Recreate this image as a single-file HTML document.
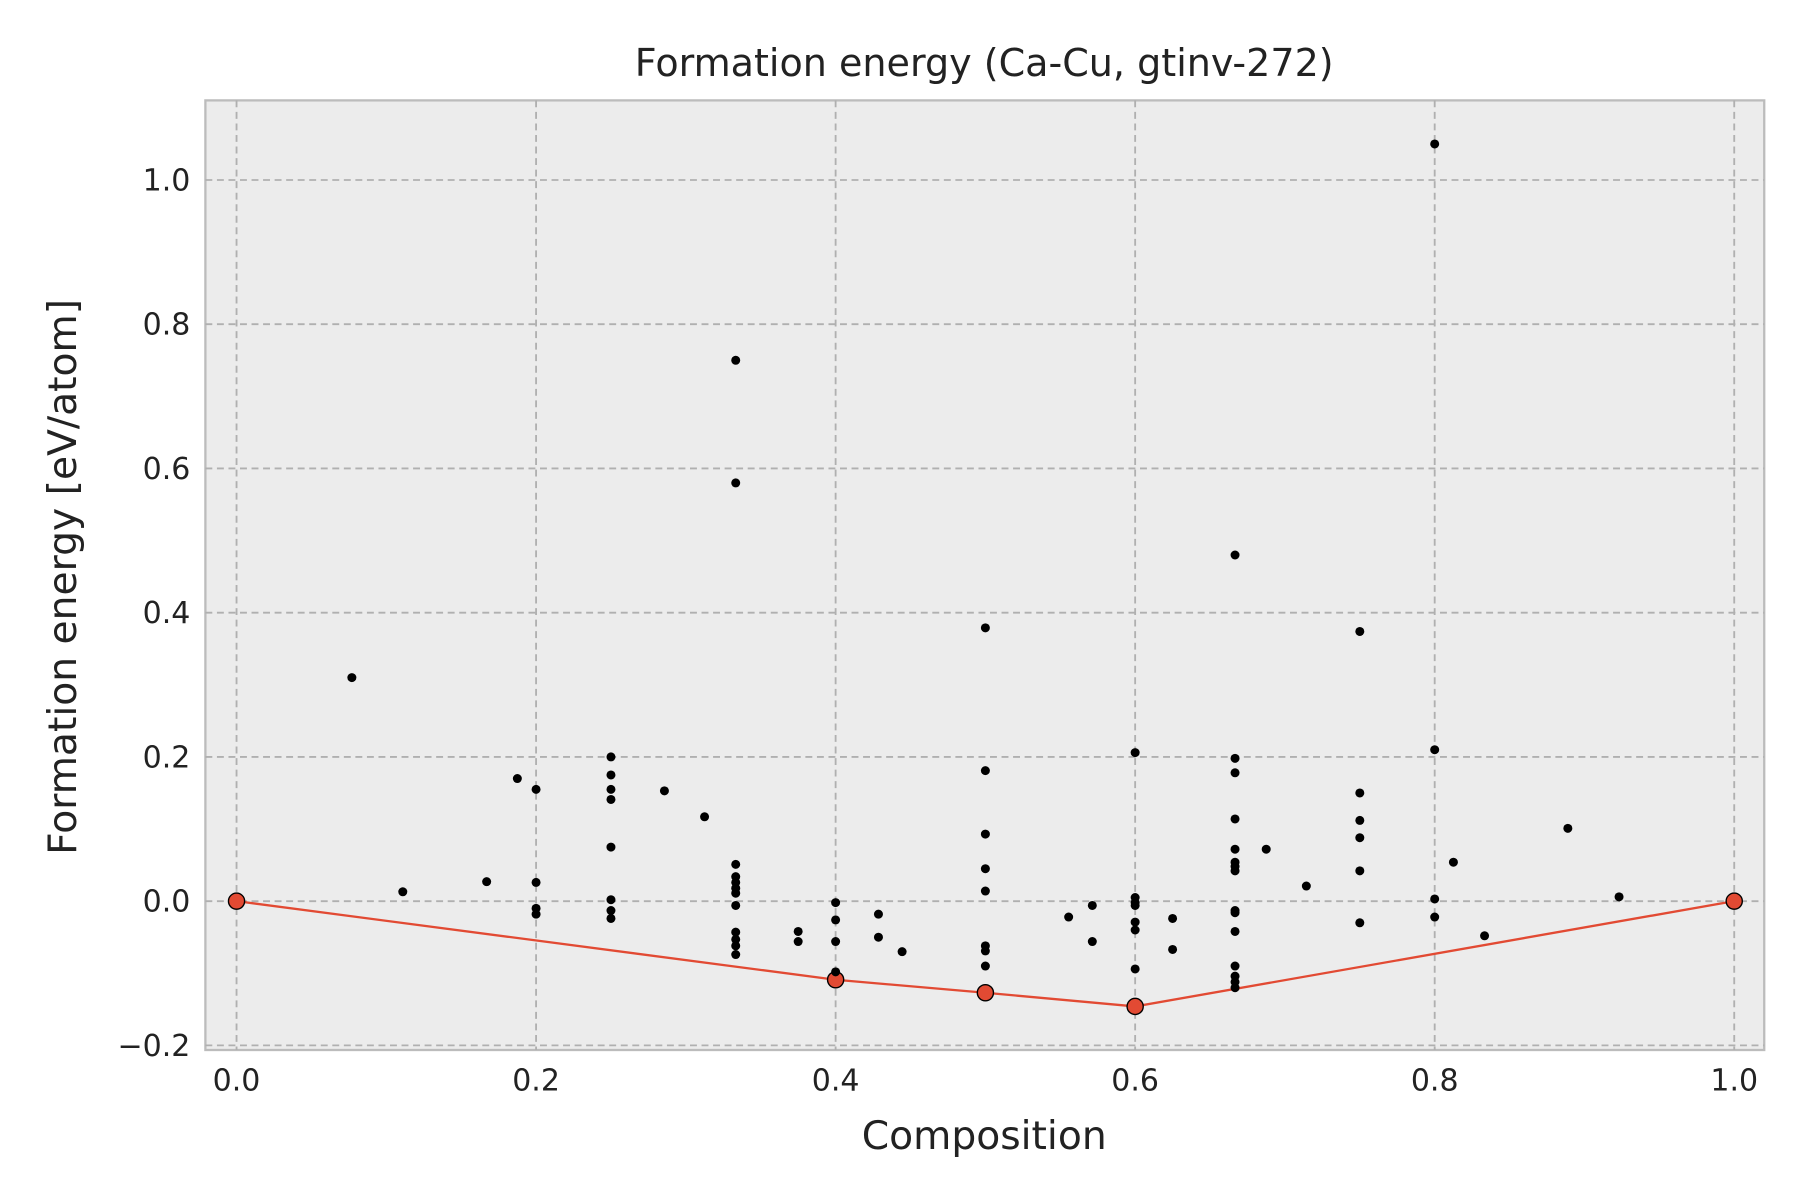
<!DOCTYPE html>
<html><head><meta charset="utf-8"><style>
html,body{margin:0;padding:0;background:#fff;}
svg{display:block;font-family:"DejaVu Sans","Liberation Sans",sans-serif;}
</style></head><body>
<svg id="chart" width="1800" height="1200" viewBox="0 0 1560 1040" xmlns="http://www.w3.org/2000/svg">
<rect x="0" y="0" width="1560" height="1040" fill="#fff"/>
<rect x="178" y="87" width="1351" height="823" fill="#ececec" stroke="#bcbcbc" stroke-width="2"/>
<g id="grid"></g>
<g id="hull"></g>
<g id="pts"></g>
<g id="ticks"></g>
<text x="853" y="66" text-anchor="middle" font-size="33" fill="#222">Formation energy (Ca-Cu, gtinv-272)</text>
<text x="853" y="996" text-anchor="middle" font-size="34" fill="#222">Composition</text>
<text transform="translate(66,500) rotate(-90)" text-anchor="middle" font-size="34" fill="#222">Formation energy [eV/atom]</text>
</svg>
<script>
const xTicks=[0,0.2,0.4,0.6,0.8,1.0];
const xTickLabels=["0.0","0.2","0.4","0.6","0.8","1.0"];
const yTicks=[-0.2,0,0.2,0.4,0.6,0.8,1.0];
const yTickLabels=["\u22120.2","0.0","0.2","0.4","0.6","0.8","1.0"];
const ptX=[0.077,0.111,0.167,0.1875,0.2,0.2,0.2,0.2,0.25,0.25,0.25,0.25,0.25,0.25,0.25,0.25,0.2857,0.3125,
0.3333,0.3333,0.3333,0.3333,0.3333,0.3333,0.3333,0.3333,0.3333,0.3333,0.3333,0.3333,
0.375,0.375,0.4,0.4,0.4,0.4,0.4286,0.4286,0.4444,
0.5,0.5,0.5,0.5,0.5,0.5,0.5,0.5,0.5556,0.5714,0.5714,
0.6,0.6,0.6,0.6,0.6,0.6,0.6,0.625,0.625,
0.6667,0.6667,0.6667,0.6667,0.6667,0.6667,0.6667,0.6667,0.6667,0.6667,0.6667,0.6667,0.6667,0.6667,0.6667,
0.6875,0.7143,0.75,0.75,0.75,0.75,0.75,0.8,0.8,0.8,0.8,0.8125,0.8333,0.8889,0.9231,0.75];
const ptY=[0.31,0.013,0.027,0.17,0.155,0.026,-0.01,-0.018,0.2,0.175,0.155,0.141,0.075,0.002,-0.013,-0.024,0.153,0.117,
0.75,0.58,0.051,0.034,0.026,0.018,0.011,-0.006,-0.043,-0.053,-0.062,-0.074,
-0.042,-0.056,-0.002,-0.026,-0.056,-0.098,-0.018,-0.05,-0.07,
0.379,0.181,0.093,0.045,0.014,-0.062,-0.069,-0.09,-0.022,-0.006,-0.056,
0.206,0.005,-0.002,-0.006,-0.029,-0.04,-0.094,-0.024,-0.067,
0.48,0.198,0.178,0.114,0.072,0.054,0.048,0.042,-0.013,-0.016,-0.042,-0.09,-0.104,-0.112,-0.12,
0.072,0.021,0.374,0.15,0.112,0.088,0.042,1.05,0.21,0.003,-0.022,0.054,-0.048,0.101,0.006,-0.03];
const hullX=[0,0.4,0.5,0.6,1.0];
const hullY=[0,-0.109,-0.127,-0.146,0];
const NS="http://www.w3.org/2000/svg";
const sx=v=>205+v*1298, sy=v=>781-v*625;
function mk(tag,attrs,parent){const e=document.createElementNS(NS,tag);for(const k in attrs)e.setAttribute(k,attrs[k]);parent.appendChild(e);return e;}
const grid=document.getElementById('grid'),ticks=document.getElementById('ticks');
xTicks.forEach((v,i)=>{
 const l=mk('line',{x1:sx(v),x2:sx(v),y1:87,y2:910,stroke:'#b0b0b0','stroke-width':1.6,'stroke-dasharray':'6,4'},grid);
 
 
 const t=mk('text',{x:sx(v),y:945,'text-anchor':'middle','font-size':26,fill:'#222'},ticks);
 t.textContent=xTickLabels[i];
 
 
});
yTicks.forEach((v,i)=>{
 const l=mk('line',{x1:178,x2:1529,y1:sy(v),y2:sy(v),stroke:'#b0b0b0','stroke-width':1.6,'stroke-dasharray':'6,4'},grid);
 
 
 const t=mk('text',{x:165,y:sy(v)+9,'text-anchor':'end','font-size':26,fill:'#222'},ticks);
 t.textContent=yTickLabels[i];
 
 
});
const hull=document.getElementById('hull');
const pl=mk('polyline',{points:hullX.map((x,i)=>sx(x)+','+sy(hullY[i])).join(' '),fill:'none',stroke:'#e24a33','stroke-width':2},hull);


const pts=document.getElementById('pts');
ptX.forEach((x,i)=>{
 const c=mk('circle',{cx:sx(x),cy:sy(ptY[i]),r:3.9,fill:'#000'},pts);
 
 
});
hullX.forEach((x,i)=>{
 const c=mk('circle',{cx:sx(x),cy:sy(hullY[i]),r:7,fill:'#e24a33',stroke:'#000','stroke-width':1.2},hull);
 
 
});
</script>
</body></html>
